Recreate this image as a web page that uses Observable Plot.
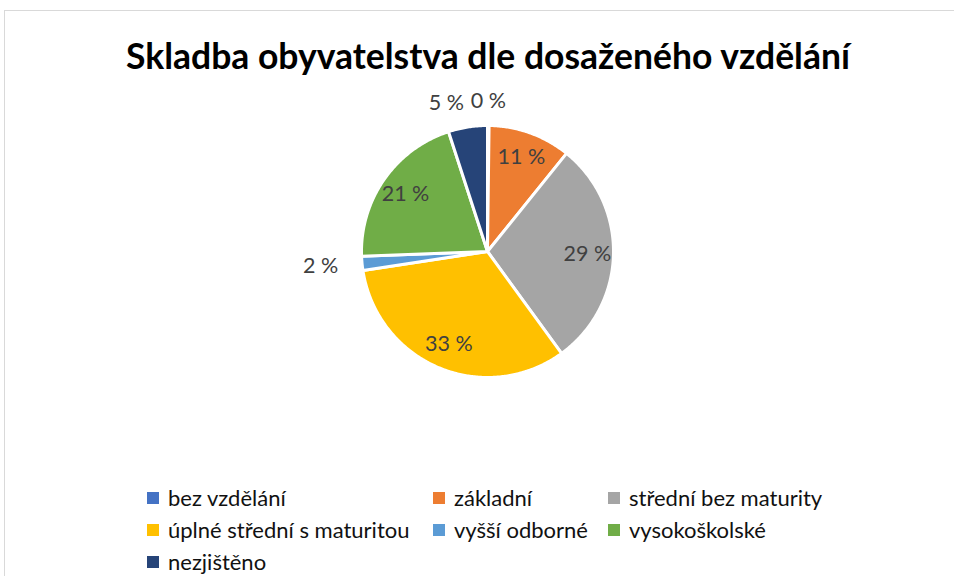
<!DOCTYPE html>
<html><head><meta charset="utf-8">
<script src="https://cdn.jsdelivr.net/npm/d3@7"></script>
<script src="https://cdn.jsdelivr.net/npm/@observablehq/plot@0.6"></script>
<style>
html,body{margin:0;padding:0;background:#fff;overflow:hidden;}
#wrap{position:relative;width:954px;height:576px;overflow:hidden;font-family:Lato,"Open Sans",sans-serif;}
#frame{position:absolute;left:4px;top:10px;width:1000px;height:1000px;border:1px solid #d9d9d9;box-sizing:border-box;}
#chart{position:absolute;left:0;top:0;}
#title{position:absolute;left:0;top:34px;width:976px;text-align:center;font-weight:bold;font-size:35.5px;line-height:43px;color:#000;white-space:nowrap;}
#legend{position:absolute;left:147px;top:482px;font-size:22px;line-height:20px;color:#111;}
.row{display:flex;height:32px;align-items:center;}
.item{display:flex;align-items:center;white-space:nowrap;}
.sw{width:12px;height:12px;margin-right:9px;flex:none;}
</style>
</head><body>
<div id="wrap">
<div id="frame"></div>
<div id="chart"></div>
<div id="title">Skladba obyvatelstva dle dosaženého vzdělání</div>
<div id="legend"></div>
</div>
<script>
const categories = ["bez vzdělání","základní","střední bez maturity","úplné střední s maturitou","vyšší odborné","vysokoškolské","nezjištěno"];
const values = [0.2, 10.6, 29.2, 32.6, 1.8, 20.6, 5.0];
const labels = ["0 %","11 %","29 %","33 %","2 %","21 %","5 %"];
const colors = ["#4472C4","#ED7D31","#A5A5A5","#FFC000","#5B9BD5","#70AD47","#264478"];
const legendColumns = [286, 175, 260];

const R = 126;
const total = d3.sum(values);
const pts = [];
const lab = [];
let acc = 0;
values.forEach((v, i) => {
  const a0 = acc / total * 2 * Math.PI;
  acc += v;
  const a1 = acc / total * 2 * Math.PI;
  const n = Math.max(2, Math.ceil((a1 - a0) / 0.01));
  pts.push({cat: categories[i], x: 0, y: 0});
  for (let k = 0; k <= n; k++) {
    const a = a0 + (a1 - a0) * k / n;
    pts.push({cat: categories[i], x: R * Math.sin(a), y: R * Math.cos(a)});
  }
  pts.push({cat: categories[i], x: 0, y: 0});
  const am = (a0 + a1) / 2;
  const inside = v >= 10;
  const r = inside ? 100 : 150;
  const lx = r * Math.sin(am), ly = r * Math.cos(am);
  lab.push({cat: categories[i], text: labels[i], x: lx, y: ly,
    anchor: inside ? "middle" : (lx < -5 ? "end" : "middle")});
});

const font = "Lato, 'Open Sans', sans-serif";
const chart = Plot.plot({
  width: 954, height: 576, margin: 0,
  x: {domain: [-487, 467], axis: null},
  y: {domain: [-325, 251], axis: null},
  color: {domain: categories, range: colors},
  style: {background: "transparent"},
  marks: [
    Plot.line(pts, {x: "x", y: "y", z: "cat", fill: "cat", stroke: "white", strokeWidth: 3, strokeLinejoin: "round", curve: "linear"}),
    Plot.text(lab.filter(d => d.anchor === "middle"), {x: "x", y: "y", text: "text", fill: "#404040", fontSize: 21.5, fontFamily: font, textAnchor: "middle"}),
    Plot.text(lab.filter(d => d.anchor === "end"), {x: "x", y: "y", text: "text", fill: "#404040", fontSize: 21.5, fontFamily: font, textAnchor: "end"})
  ]
});
document.getElementById("chart").appendChild(chart);

const leg = document.getElementById("legend");
for (let r = 0; r < Math.ceil(categories.length / 3); r++) {
  const row = document.createElement("div");
  row.className = "row";
  for (let c = 0; c < 3; c++) {
    const i = r * 3 + c;
    if (i >= categories.length) break;
    const it = document.createElement("div");
    it.className = "item";
    it.style.width = legendColumns[c] + "px";
    it.innerHTML = `<span class="sw" style="background:${colors[i]}"></span><span>${categories[i]}</span>`;
    row.appendChild(it);
  }
  leg.appendChild(row);
}
</script>
</body></html>
